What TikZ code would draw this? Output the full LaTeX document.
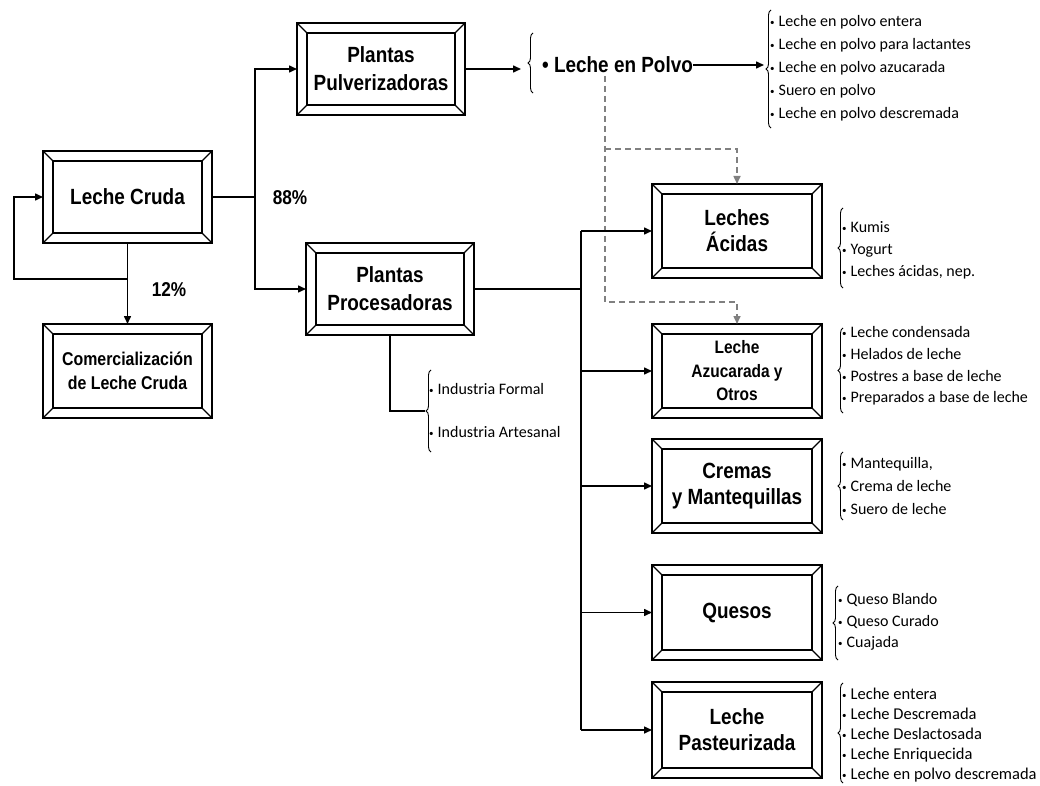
\documentclass[tikz,border=0pt]{standalone}
\usepackage{fontspec}
\setmainfont{Liberation Sans}
\newfontfamily\boxfont[FakeStretch=0.86]{Liberation Sans}
\newfontfamily\listfont{Carlito}
\usetikzlibrary{arrows.meta,decorations.pathreplacing}

\newcommand\bul{{\fontsize{9}{9}\selectfont\raisebox{1pt}{•}}\hspace{4pt}}

\tikzset{
 bevel/.style={draw, line width=2pt, outer sep=0pt, inner sep=0pt, align=center, fill=white,
   font=\boxfont\bfseries\fontsize{22}{26}\selectfont},
 bevline/.style={line width=1.2pt},
 innerline/.style={line width=1.8pt},
 conn/.style={line width=1.5pt, -{Triangle[length=8pt,width=7pt]}},
 plainline/.style={line width=1.5pt},
 busline/.style={line width=2.2pt},
 dashline/.style={draw=gray, line width=1.5pt, dash pattern=on 6pt off 4pt},
 dasharrow/.style={dashline, -{Triangle[length=8pt,width=7pt]}},
 lbrace/.style={decorate, decoration={brace, amplitude=5pt}, line width=0.9pt},
 listtext/.style={anchor=west, align=left, inner sep=0pt, font=\listfont\fontsize{16}{22}\selectfont},
 pct/.style={inner sep=0pt, font=\boxfont\bfseries\fontsize{20}{20}\selectfont},
 smallbox/.style={font=\boxfont\bfseries\fontsize{18.5}{24}\selectfont}
}

\newcommand\bevbox[7][]{%
 \node[bevel, minimum width={(#5-#3)*1pt}, minimum height={(#6-#4)*1pt}, #1] (#2) at ({(#3+#5)/2},{(#4+#6)/2}) {#7};
 \draw[innerline] ([shift={(10,10)}]#2.north west) rectangle ([shift={(-10,-10)}]#2.south east);
 \draw[bevline] (#2.north west) -- ++(10,10) (#2.north east) -- ++(-10,10)
   (#2.south west) -- ++(10,-10) (#2.south east) -- ++(-10,-10);
}

\begin{document}
\begin{tikzpicture}[x=1pt,y=-1pt]
\useasboundingbox (0,0) rectangle (1040,786);
\fill[white] (0,0) rectangle (1040,786);

% boxes
\bevbox{cruda}{43}{151}{212}{243}{Leche Cruda}
\bevbox[smallbox]{comer}{43}{324}{212}{418}{Comercialización\\de Leche Cruda}
\bevbox[font=\boxfont\bfseries\fontsize{22}{28}\selectfont]{pulv}{297}{23}{465}{115}{Plantas\\Pulverizadoras}
\bevbox[font=\boxfont\bfseries\fontsize{22}{28}\selectfont]{proc}{306}{243}{474}{335}{Plantas\\Procesadoras}
\bevbox{aci}{652}{184}{822}{278}{Leches\\Ácidas}
\bevbox[font=\boxfont\bfseries\fontsize{18}{23.5}\selectfont]{azu}{652}{324}{822}{418}{Leche\\Azucarada y\\Otros}
\bevbox{crem}{652}{439}{822}{533}{Cremas\\y Mantequillas}
\bevbox{ques}{652}{565}{822}{660}{Quesos}
\bevbox{past}{652}{682}{822}{778}{Leche\\Pasteurizada}

% percentages
\node[pct] (p88) at (290,198) {88\%};
\node[pct] (p12) at (169,290) {12\%};

% Leche Cruda connectors
\coordinate (j1) at (255,197);
\coordinate (j2) at (14,279);
\draw[plainline] (cruda.east) -- (j1);
\draw[conn] (j1) |- (pulv.west);
\draw[conn] (j1) |- (proc.west);
\draw[conn] (cruda.south) -- (comer.north);
\draw[conn] (cruda.south |- j2) -- (j2) |- (cruda.west);

% Leche en Polvo
\draw[lbrace] (533,93) -- (533,33);
\coordinate (pb) at (521,69);
\node[anchor=west, inner sep=0pt, font=\boxfont\bfseries\fontsize{22}{22}\selectfont] (lp) at (542,65) {• Leche en Polvo};
\draw[conn] (pulv.east) -- (pb);

% top list
\draw[lbrace] (771,128) -- (771,10);
\coordinate (tl) at (764,67);
\node[listtext, font=\listfont\fontsize{16}{23}\selectfont] (l1) at (770,68) {\bul Leche en polvo entera\\\bul Leche en polvo para lactantes\\\bul Leche en polvo azucarada\\\bul Suero en polvo\\\bul Leche en polvo descremada};
\draw[conn] (lp.east) -- (lp.east -| tl);

% dashed connectors
\coordinate (d0) at (605,76);
\draw[dasharrow] (d0) -- (d0 |- 0,302) -| (azu.north);
\draw[dasharrow] (d0 |- 0,149) -| (aci.north);

% Procesadoras bus
\coordinate (bus) at (581,290);
\draw[busline] (proc.east) -- (proc.east -| bus);
\draw[busline] (bus |- aci.west) -- (bus |- past.west);
\draw[conn] (bus |- aci.west) -- (aci.west);
\draw[conn] (bus |- azu.west) -- (azu.west);
\draw[conn] (bus |- crem.west) -- (crem.west);
\draw[conn] (bus |- ques.west) -- (ques.west);
\draw[conn] (bus |- past.west) -- (past.west);

% Industria
\draw[lbrace] (431,452) -- (431,370);
\coordinate (ib) at (425,411);
\node[listtext, font=\listfont\fontsize{16}{43}\selectfont] (lind) at (429,411) {\bul Industria Formal\\\bul Industria Artesanal};
\draw[plainline] (proc.south) |- (ib);

% lists
\draw[lbrace] (843,288) -- (843,208);
\node[listtext] (laci) at (842,250) {\bul Kumis\\\bul Yogurt\\\bul Leches ácidas, nep.};

\draw[lbrace] (843,413) -- (843,328);
\node[listtext, font=\listfont\fontsize{16}{21.7}\selectfont] (lazu) at (842,366) {\bul Leche condensada\\\bul Helados de leche\\\bul Postres a base de leche\\\bul Preparados a base de leche};

\draw[lbrace] (843,520) -- (843,452);
\node[listtext, font=\listfont\fontsize{16}{23}\selectfont] (lcrem) at (842,486) {\bul Mantequilla,\\\bul Crema de leche\\\bul Suero de leche};

\draw[lbrace] (838,660) -- (838,586);
\node[listtext, font=\listfont\fontsize{16}{21.5}\selectfont] (lques) at (838,622) {\bul Queso Blando\\\bul Queso Curado\\\bul Cuajada};

\draw[lbrace] (843,783) -- (843,683);
\node[listtext, font=\listfont\fontsize{16.5}{20}\selectfont] (lpast) at (842,735) {\bul Leche entera\\\bul Leche Descremada\\\bul Leche Deslactosada\\\bul Leche Enriquecida\\\bul Leche en polvo descremada};
\end{tikzpicture}
\end{document}
